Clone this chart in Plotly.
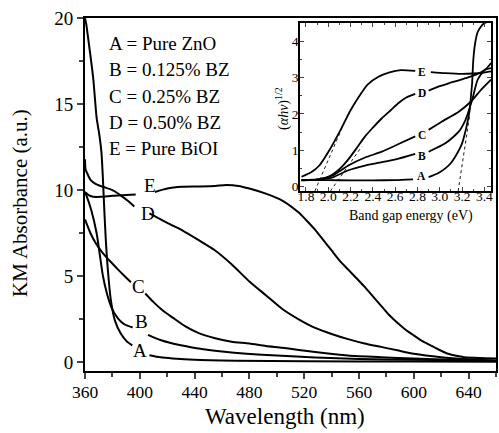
import plotly.graph_objects as go

# ---------------- main chart data (KM absorbance vs wavelength) ----------------
A_wl = [360, 361, 362, 364, 366, 368.5, 370.5, 372, 373, 374, 375.2, 376.7, 378.9, 381.8, 386, 390.5, 394.5,
        None, 407, 415, 424, 440, 470, 520, 600, 660]
A_km = [20, 19.6, 19.0, 17.8, 16.5, 14.2, 13.2, 12.2, 10.8, 9.0, 7.1, 5.35, 3.6, 2.44, 1.69, 1.22, 0.99,
        None, 0.42, 0.3, 0.23, 0.15, 0.1, 0.07, 0.05, 0.04]

B_wl = [360, 361, 364.6, 368.5, 370.9, 373, 376, 379.6, 384, 389, 394.8,
        None, 406, 415, 424, 433, 443, 460, 478, 500, 528, 560, 600, 660]
B_km = [9.88, 9.7, 8.84, 7.5, 6.2, 5.06, 4.0, 3.14, 2.56, 2.2, 2.03,
        None, 1.6, 1.3, 1.1, 0.95, 0.8, 0.63, 0.5, 0.4, 0.28, 0.2, 0.15, 0.1]

C_wl = [360, 364, 368, 373, 378, 384, 389, 393.5,
        None, 404, 410, 417, 424, 433, 443, 455, 467, 480, 492, 504, 516, 528, 552, 576, 600, 630, 660]
C_km = [8.3, 7.5, 6.9, 6.35, 5.9, 5.4, 5.0, 4.65,
        None, 4.0, 3.5, 3.0, 2.6, 2.1, 1.7, 1.4, 1.2, 1.1, 0.95, 0.85, 0.72, 0.6, 0.4, 0.3, 0.22, 0.15, 0.1]

D_wl = [360, 360.4, 361.5, 364, 368, 373, 380, 386, 391, 396,
        None, 407, 420, 431, 443, 455, 467, 480, 492, 504, 516, 528, 540, 552, 564, 576, 588, 600, 620, 640, 660]
D_km = [11.8, 11.2, 11.0, 10.6, 10.35, 10.2, 10.0, 9.7, 9.4, 9.05,
        None, 8.65, 8.1, 7.67, 7.1, 6.5, 5.7, 4.7, 3.9, 3.1, 2.5, 2.0, 1.65, 1.35, 1.1, 0.9, 0.7, 0.5, 0.3, 0.18, 0.1]

E_wl = [360, 363, 366, 372, 380, 390, 397,
        None, 411, 420, 431, 443, 455, 463, 472, 480, 492, 504, 516, 521, 528, 534, 540, 546, 552, 558, 564,
        570, 576, 582, 588, 594, 600, 606, 612, 618, 625, 631, 637, 648, 660]
E_km = [9.9, 9.7, 9.62, 9.62, 9.68, 9.72, 9.75,
        None, 9.9, 10.1, 10.2, 10.22, 10.25, 10.3, 10.25, 10.1, 9.8, 9.4, 8.7, 8.3, 7.7, 7.1, 6.5, 5.9, 5.4, 4.9, 4.4,
        3.85, 3.3, 2.75, 2.3, 1.9, 1.57, 1.25, 1.0, 0.75, 0.5, 0.38, 0.3, 0.25, 0.22]

main_labels = ["A", "B", "C", "D", "E"]
main_label_wl = [400, 401, 399.4, 406, 407.6]
main_label_km = [0.7, 2.35, 4.4, 8.66, 10.3]

legend_lines = ["A = Pure ZnO", "B = 0.125% BZ", "C = 0.25% BZ", "D = 0.50% BZ", "E = Pure BiOI"]

# ---------------- inset data ((alpha h nu)^1/2 vs band gap energy) ----------------
iA_ev = [1.76, 2.0, 2.2, 2.4, 2.6, 2.76, None, 2.9, 2.98, 3.05, 3.1, 3.14, 3.18, 3.2, 3.22, 3.24, 3.26, 3.27,
         3.28, 3.29, 3.3, 3.315, 3.34, 3.37, 3.39, 3.42]
iA_y = [0.18, 0.18, 0.17, 0.17, 0.18, 0.2, None, 0.26, 0.36, 0.5, 0.65, 0.83, 1.05, 1.19, 1.4, 1.65, 1.95, 2.15,
        2.5, 2.84, 3.45, 3.9, 4.25, 4.4, 4.47, 4.52]

iB_ev = [1.76, 1.9, 2.035, 2.18, 2.33, 2.48, 2.63, 2.78, None, 2.9, 3.05, 3.17, 3.23, 3.29, 3.34, 3.4, 3.46]
iB_y = [0.17, 0.19, 0.25, 0.45, 0.58, 0.67, 0.77, 0.9, None, 0.96, 1.19, 1.51, 1.83, 2.38, 2.94, 3.2, 3.26]

iC_ev = [1.76, 1.9, 2.035, 2.1, 2.18, 2.33, 2.48, 2.63, 2.78, None, 2.9, 3.02, 3.17, 3.28, 3.37, 3.46]
iC_y = [0.17, 0.19, 0.3, 0.42, 0.58, 0.8, 0.96, 1.17, 1.38, None, 1.56, 1.79, 2.06, 2.34, 2.66, 2.94]

iD_ev = [1.76, 1.9, 2.0, 2.1, 2.18, 2.26, 2.33, 2.4, 2.48, 2.56, 2.63, 2.7, 2.78, None,
         2.9, 3.0, 3.08, 3.17, 3.23, 3.3, 3.37, 3.42, 3.46]
iD_y = [0.18, 0.2, 0.27, 0.48, 0.75, 1.08, 1.38, 1.62, 1.88, 2.1, 2.3, 2.45, 2.55, None,
        2.64, 2.76, 2.84, 2.92, 2.98, 3.05, 3.14, 3.25, 3.4]

iE_ev = [1.76, 1.85, 1.92, 2.0, 2.1, 2.2, 2.27, 2.35, 2.45, 2.55, 2.65, 2.78, None,
         2.92, 3.05, 3.2, 3.3, 3.38, 3.46]
iE_y = [0.27, 0.4, 0.58, 0.95, 1.5, 2.1, 2.45, 2.8, 3.02, 3.14, 3.2, 3.18, None,
        3.15, 3.12, 3.1, 3.11, 3.13, 3.17]

tangent_E_ev = [1.88, 2.15]
tangent_E_y = [-0.12, 1.8]
tangent_D_ev = [2.02, 2.3]
tangent_D_y = [-0.12, 1.1]
tangent_A_ev = [3.165, 3.27]
tangent_A_y = [-0.12, 2.0]

inset_label_ev = [2.84, 2.84, 2.84, 2.84, 2.84]
inset_label_y = [0.3, 0.85, 1.42, 2.57, 3.16]

FONT = "Liberation Serif"

fig = go.Figure()

for xs, ys in [(A_wl, A_km), (B_wl, B_km), (C_wl, C_km), (D_wl, D_km), (E_wl, E_km)]:
    fig.add_trace(go.Scatter(x=xs, y=ys, mode="lines", line=dict(color="black", width=2, shape="spline", smoothing=0.6),
                             connectgaps=False, showlegend=False, xaxis="x", yaxis="y"))

for xs, ys in [(iA_ev, iA_y), (iB_ev, iB_y), (iC_ev, iC_y), (iD_ev, iD_y), (iE_ev, iE_y)]:
    fig.add_trace(go.Scatter(x=xs, y=ys, mode="lines", line=dict(color="black", width=1.8, shape="spline", smoothing=0.6),
                             connectgaps=False, showlegend=False, xaxis="x2", yaxis="y2", cliponaxis=True))

for xs, ys in [(tangent_E_ev, tangent_E_y), (tangent_D_ev, tangent_D_y), (tangent_A_ev, tangent_A_y)]:
    fig.add_trace(go.Scatter(x=xs, y=ys, mode="lines", line=dict(color="black", width=0.9, dash="dot"),
                             showlegend=False, xaxis="x2", yaxis="y2"))

annotations = []
for t, x, y in zip(main_labels, main_label_wl, main_label_km):
    annotations.append(dict(text=t, x=x, y=y, xref="x", yref="y", showarrow=False,
                            font=dict(family=FONT, size=19, color="black")))
for t, x, y in zip(main_labels, inset_label_ev, inset_label_y):
    annotations.append(dict(text="<b>" + t + "</b>", x=x, y=y, xref="x2", yref="y2", showarrow=False,
                            font=dict(family=FONT, size=11.5, color="black")))
leg_y = [0.929, 0.853, 0.778, 0.705, 0.631]
for t, y in zip(legend_lines, leg_y):
    annotations.append(dict(text=t, x=0.053, y=y, xref="paper", yref="paper", xanchor="left", yanchor="middle",
                            showarrow=False, font=dict(family=FONT, size=19, color="black")))

annotations.append(dict(text="KM Absorbance (a.u.)", x=0, xshift=-65, y=0.476, xref="paper", yref="paper",
                        textangle=-90, showarrow=False, xanchor="center", yanchor="middle",
                        font=dict(family=FONT, size=21, color="black")))
annotations.append(dict(text="Wavelength (nm)", x=0.487, y=0, yshift=-45, xref="paper", yref="paper",
                        showarrow=False, xanchor="center", yanchor="middle",
                        font=dict(family=FONT, size=23, color="black")))
annotations.append(dict(text="(<i>αhν</i>)<sup>1/2</sup>", x=0.479, y=0.745, xref="paper", yref="paper",
                        textangle=-90, showarrow=False, xanchor="center", yanchor="middle",
                        font=dict(family=FONT, size=14, color="black")))
annotations.append(dict(text="Band gap energy (eV)", x=0.794, y=0.439, xref="paper", yref="paper",
                        showarrow=False, xanchor="center", yanchor="middle",
                        font=dict(family=FONT, size=14, color="black")))

fig.update_layout(
    width=499, height=433,
    margin=dict(l=85, r=1, t=18, b=62),
    paper_bgcolor="white", plot_bgcolor="white",
    font=dict(family=FONT, color="black"),
    showlegend=False,
    annotations=annotations,
    xaxis=dict(range=[360, 660], tick0=360, dtick=40, ticks="outside", ticklen=6, tickwidth=1.5,
               showline=True, linewidth=2, linecolor="black", mirror=True, showgrid=False, zeroline=False,
               tickfont=dict(family=FONT, size=17.5), ticklabelstandoff=-2,
               minor=dict(dtick=20, ticks="outside", ticklen=4, tickwidth=1.5, showgrid=False)),
    yaxis=dict(range=[-0.5, 20], tick0=0, dtick=5, ticks="outside", ticklen=6, tickwidth=1.5,
               showline=True, linewidth=2, linecolor="black", mirror=True, showgrid=False, zeroline=False,
               tickfont=dict(family=FONT, size=19),
               minor=dict(dtick=2.5, ticks="outside", ticklen=4, tickwidth=1.5, showgrid=False)),
    xaxis2=dict(domain=[0.523, 0.988], anchor="y2", range=[1.746, 3.46], tick0=1.8, dtick=0.2, tickformat=".1f",
                ticks="inside", ticklen=4, tickwidth=1, showline=True, linewidth=1.5, linecolor="black",
                mirror="allticks", showgrid=False, zeroline=False, tickfont=dict(family=FONT, size=13.5),
                ticklabelstandoff=-8,
                minor=dict(dtick=0.1, ticks="inside", ticklen=2.5, tickwidth=1, showgrid=False)),
    yaxis2=dict(domain=[0.51, 0.986], anchor="x2", range=[-0.12, 4.5], tick0=0, dtick=1,
                ticks="inside", ticklen=4, tickwidth=1, showline=True, linewidth=1.5, linecolor="black",
                mirror="allticks", showgrid=False, zeroline=False, tickfont=dict(family=FONT, size=13.5),
                ticklabelstandoff=-3,
                minor=dict(dtick=0.5, ticks="inside", ticklen=2.5, tickwidth=1, showgrid=False)),
)

fig.write_html("out.html")
